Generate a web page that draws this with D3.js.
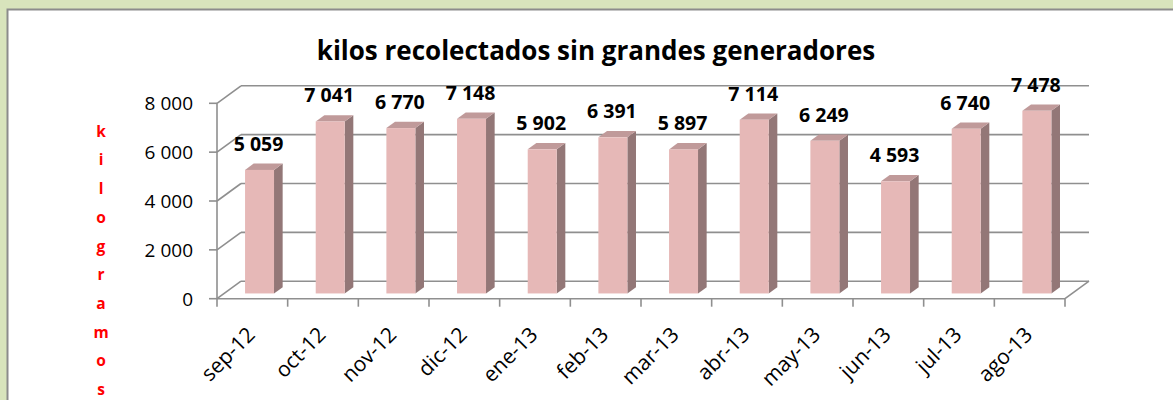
<!DOCTYPE html>
<html>
<head>
<meta charset="utf-8">
<script src="https://cdn.jsdelivr.net/npm/d3@7"></script>
<style>
  html, body { margin: 0; padding: 0; background: #d8e4bc; }
  svg { display: block; }
  text { font-family: "Open Sans", "Noto Sans", sans-serif; }
</style>
</head>
<body>
<div id="chart"></div>
<script>
// data
const months = ['sep-12', 'oct-12', 'nov-12', 'dic-12', 'ene-13', 'feb-13',
                'mar-13', 'abr-13', 'may-13', 'jun-13', 'jul-13', 'ago-13'];
const kilos = [5059, 7041, 6770, 7148, 5902, 6391, 5897, 7114, 6249, 4593, 6740, 7478];
const yTicks = [0, 2000, 4000, 6000, 8000];
const chartTitle = 'kilos recolectados sin grandes generadores';
const yTitle = 'kilogramos';

const width = 1173, height = 400;
let frontColor = '#e6b8b7',
    sideColor = '#937777',
    topColor = '#c09a9a',
    gridColor = '#8f8f8f';

// depth of the 3d box, and where the bars sit in it
const depth = {dx: 24, dy: -17.5};
const barPos = 0.3, barDepth = 0.36;

const svg = d3.select('#chart').append('svg')
    .attr('width', width)
    .attr('height', height);

// white chart panel
svg.append('rect')
    .attr('x', 7.5).attr('y', 9.5)
    .attr('width', width + 10).attr('height', height + 10)
    .attr('fill', '#fff')
    .attr('stroke', '#8c8c8c')
    .attr('stroke-width', 2);

const x = d3.scaleBand()
    .domain(months)
    .range([217, 1065])
    .paddingInner(0.59)
    .paddingOuter(0.295);

const y = d3.scaleLinear()
    .domain([0, 8000])
    .range([298.7, 103.3]);

const x0 = x.range()[0], x1 = x.range()[1];

// walls & gridlines
const grid = svg.append('g')
    .attr('stroke', gridColor)
    .attr('stroke-width', 1.6)
    .attr('fill', 'none');

grid.selectAll('.back')
    .data(yTicks)
    .enter().append('line')
    .attr('x1', x0 + depth.dx).attr('x2', x1 + depth.dx)
    .attr('y1', d => y(d) + depth.dy).attr('y2', d => y(d) + depth.dy);

grid.selectAll('.side')
    .data(yTicks)
    .enter().append('line')
    .attr('x1', x0).attr('x2', x0 + depth.dx)
    .attr('y1', d => y(d)).attr('y2', d => y(d) + depth.dy);

// front y axis + ticks
grid.append('line')
    .attr('x1', x0).attr('x2', x0)
    .attr('y1', y(8000)).attr('y2', y(0));
grid.selectAll('.ytick')
    .data(yTicks)
    .enter().append('line')
    .attr('x1', x0 - 8).attr('x2', x0)
    .attr('y1', d => y(d)).attr('y2', d => y(d));

// floor front edge, right edge, category ticks
grid.append('line')
    .attr('x1', x0).attr('x2', x1)
    .attr('y1', y(0)).attr('y2', y(0));
grid.append('line')
    .attr('x1', x1).attr('x2', x1 + depth.dx)
    .attr('y1', y(0)).attr('y2', y(0) + depth.dy);
grid.selectAll('.xtick')
    .data(d3.range(months.length + 1))
    .enter().append('line')
    .attr('x1', i => x0 + i * x.step()).attr('x2', i => x0 + i * x.step())
    .attr('y1', y(0)).attr('y2', y(0) + 8);

// y tick labels
svg.append('g').selectAll('text')
    .data(yTicks)
    .enter().append('text')
    .attr('x', 193)
    .attr('y', d => y(d))
    .attr('dy', '0.36em')
    .attr('text-anchor', 'end')
    .attr('font-size', 19)
    .attr('fill', '#000')
    .text(d => d3.format(',')(d).replace(',', ' '));

// x labels
svg.append('g').selectAll('text')
    .data(months)
    .enter().append('text')
    .attr('transform', d => 'translate(' + (x(d) + x.bandwidth() / 2 + 4) + ',336) rotate(-45)')
    .attr('text-anchor', 'end')
    .attr('font-size', 21)
    .attr('fill', '#000')
    .text(d => d);

// bars
const fx = depth.dx * barPos, fy = depth.dy * barPos;
const bx = depth.dx * barDepth, by = depth.dy * barDepth;
const bars = svg.append('g').selectAll('g')
    .data(months.map((m, i) => ({month: m, value: kilos[i]})))
    .enter().append('g')
    .attr('transform', d => 'translate(' + (x(d.month) + fx) + ',' + fy + ')');

const bw = x.bandwidth();
bars.append('path') // side
    .attr('fill', sideColor)
    .attr('d', d => 'M' + bw + ',' + y(0) + 'L' + (bw + bx) + ',' + (y(0) + by) +
                    'L' + (bw + bx) + ',' + (y(d.value) + by) + 'L' + bw + ',' + y(d.value) + 'Z');
bars.append('path') // top
    .attr('fill', topColor)
    .attr('d', d => 'M0,' + y(d.value) + 'L' + bx + ',' + (y(d.value) + by) +
                    'L' + (bw + bx) + ',' + (y(d.value) + by) + 'L' + bw + ',' + y(d.value) + 'Z');
bars.append('rect') // front
    .attr('fill', frontColor)
    .attr('x', 0)
    .attr('y', d => y(d.value))
    .attr('width', bw)
    .attr('height', d => y(0) - y(d.value));

// value labels
bars.append('text')
    .attr('x', bw / 2 - 1)
    .attr('y', d => y(d.value) - 19)
    .attr('text-anchor', 'middle')
    .attr('font-size', 19.5)
    .attr('font-weight', 'bold')
    .attr('fill', '#000')
    .text(d => d3.format(',')(d.value).replace(',', ' '));

// title
svg.append('text')
    .attr('x', 596)
    .attr('y', 60)
    .attr('text-anchor', 'middle')
    .attr('font-size', 26)
    .attr('font-weight', 'bold')
    .attr('fill', '#000')
    .text(chartTitle);

// vertical y axis title, one letter per line
svg.append('g').selectAll('text')
    .data(yTitle.split(''))
    .enter().append('text')
    .attr('x', 101)
    .attr('y', (d, i) => 136.7 + i * 28.7)
    .attr('text-anchor', 'middle')
    .attr('font-size', 15.5)
    .attr('font-weight', 'bold')
    .attr('fill', '#ff0000')
    .text(d => d);
</script>
</body>
</html>
